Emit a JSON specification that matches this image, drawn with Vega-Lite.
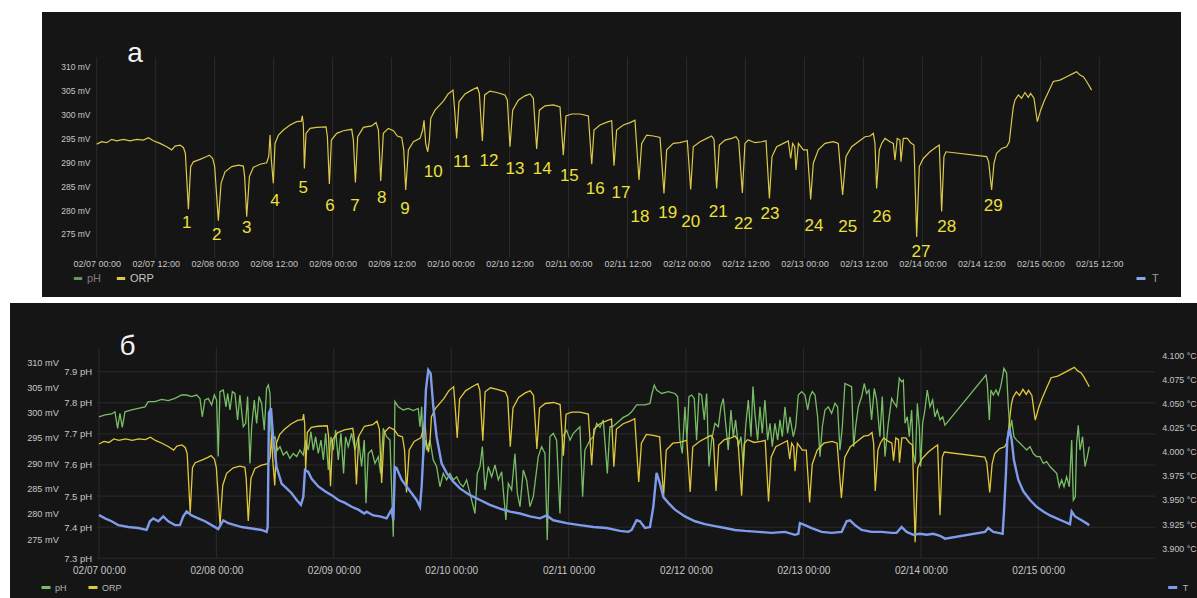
{
"$schema":"https://vega.github.io/schema/vega-lite/v6.json",
"background":"#ffffff",
"padding":{"left":10,"top":12,"right":0,"bottom":0},
"spacing":6,
"config":{
 "view":{"stroke":null},
 "font":"Liberation Sans",
 "axis":{"domain":false,"ticks":false,"tickSize":0,"grid":false,"labelColor":"#c6c6c6","labelFont":"Liberation Sans","labelPadding":0,"labelFlush":false,"labelOverlap":false,"labelBound":false},
 "legend":{"labelFont":"Liberation Sans","padding":0,"symbolType":"stroke","symbolStrokeWidth":3,"symbolSize":81,"direction":"horizontal","orient":"none"}
},
"resolve":{"scale":{"color":"independent","stroke":"independent"},"legend":{"color":"independent","stroke":"independent"}},
"datasets":{
"ticksA":[{"t":"2023-02-07T00:00"},{"t":"2023-02-07T12:00"},{"t":"2023-02-08T00:00"},{"t":"2023-02-08T12:00"},{"t":"2023-02-09T00:00"},{"t":"2023-02-09T12:00"},{"t":"2023-02-10T00:00"},{"t":"2023-02-10T12:00"},{"t":"2023-02-11T00:00"},{"t":"2023-02-11T12:00"},{"t":"2023-02-12T00:00"},{"t":"2023-02-12T12:00"},{"t":"2023-02-13T00:00"},{"t":"2023-02-13T12:00"},{"t":"2023-02-14T00:00"},{"t":"2023-02-14T12:00"},{"t":"2023-02-15T00:00"},{"t":"2023-02-15T12:00"}],
"ticksB":[{"t":"2023-02-07T00:00"},{"t":"2023-02-08T00:00"},{"t":"2023-02-09T00:00"},{"t":"2023-02-10T00:00"},{"t":"2023-02-11T00:00"},{"t":"2023-02-12T00:00"},{"t":"2023-02-13T00:00"},{"t":"2023-02-14T00:00"},{"t":"2023-02-15T00:00"}],
"phTicks":[{"p":7.3},{"p":7.4},{"p":7.5},{"p":7.6},{"p":7.7},{"p":7.8},{"p":7.9}],
"labelsA":[
{"t":"2023-02-07T18:19","v":277.24,"n":"1"},{"t":"2023-02-08T00:25","v":274.79,"n":"2"},{"t":"2023-02-08T06:31","v":276.19,"n":"3"},{"t":"2023-02-08T12:17","v":281.97,"n":"4"},{"t":"2023-02-08T18:02","v":284.56,"n":"5"},{"t":"2023-02-08T23:28","v":280.86,"n":"6"},{"t":"2023-02-09T04:33","v":280.86,"n":"7"},{"t":"2023-02-09T09:59","v":282.47,"n":"8"},{"t":"2023-02-09T14:44","v":280.23,"n":"9"},{"t":"2023-02-09T20:29","v":288.03,"n":"10"},
{"t":"2023-02-10T02:16","v":290.13,"n":"11"},{"t":"2023-02-10T07:49","v":290.27,"n":"12"},{"t":"2023-02-10T13:07","v":288.6,"n":"13"},{"t":"2023-02-10T18:40","v":288.54,"n":"14"},{"t":"2023-02-11T00:10","v":287.2,"n":"15"},{"t":"2023-02-11T05:26","v":284.41,"n":"16"},{"t":"2023-02-11T10:40","v":283.64,"n":"17"},{"t":"2023-02-11T14:32","v":278.62,"n":"18"},{"t":"2023-02-11T20:10","v":279.46,"n":"19"},{"t":"2023-02-12T00:51","v":277.45,"n":"20"},
{"t":"2023-02-12T06:28","v":279.67,"n":"21"},{"t":"2023-02-12T11:34","v":277.03,"n":"22"},{"t":"2023-02-12T16:59","v":279.18,"n":"23"},{"t":"2023-02-13T01:56","v":276.67,"n":"24"},{"t":"2023-02-13T08:48","v":276.4,"n":"25"},{"t":"2023-02-13T15:43","v":278.49,"n":"26"},{"t":"2023-02-13T23:43","v":271.3,"n":"27"},{"t":"2023-02-14T04:56","v":276.4,"n":"28"},{"t":"2023-02-14T14:25","v":280.86,"n":"29"}],
"orp":[
{"t":"2023-02-07T00:00","v":293.8},{"t":"2023-02-07T01:01","v":294.3},{"t":"2023-02-07T02:02","v":294.1},{"t":"2023-02-07T03:03","v":294.8},{"t":"2023-02-07T04:04","v":294.5},{"t":"2023-02-07T05:26","v":294.8},{"t":"2023-02-07T06:47","v":294.5},{"t":"2023-02-07T08:08","v":294.8},{"t":"2023-02-07T09:29","v":294.65},{"t":"2023-02-07T10:31","v":295.15},{"t":"2023-02-07T11:32","v":294.5},{"t":"2023-02-07T12:53","v":293.95},{"t":"2023-02-07T14:14","v":293.25},{"t":"2023-02-07T15:16","v":292.6},{"t":"2023-02-07T15:56","v":293.4},{"t":"2023-02-07T16:57","v":293.6},{"t":"2023-02-07T17:38","v":293.1},{"t":"2023-02-07T18:02","v":291.9},{"t":"2023-02-07T18:39","v":280.2},{"t":"2023-02-07T19:07","v":289.1},{"t":"2023-02-07T19:40","v":290.1},{"t":"2023-02-07T21:01","v":290.6},{"t":"2023-02-07T22:23","v":291.2},{"t":"2023-02-07T22:55","v":291.5},{"t":"2023-02-07T23:36","v":290.8},
{"t":"2023-02-08T00:00","v":289.1},{"t":"2023-02-08T00:45","v":277.8},{"t":"2023-02-08T01:18","v":285.6},{"t":"2023-02-08T02:06","v":288.0},{"t":"2023-02-08T03:28","v":289.1},{"t":"2023-02-08T04:49","v":289.4},{"t":"2023-02-08T05:50","v":289.2},{"t":"2023-02-08T06:06","v":287.0},{"t":"2023-02-08T06:31","v":278.6},{"t":"2023-02-08T07:04","v":287.0},{"t":"2023-02-08T07:53","v":288.95},{"t":"2023-02-08T09:14","v":289.6},{"t":"2023-02-08T10:35","v":289.9},{"t":"2023-02-08T11:00","v":291.2},{"t":"2023-02-08T11:16","v":295.7},{"t":"2023-02-08T11:32","v":290.5},{"t":"2023-02-08T11:56","v":285.6},{"t":"2023-02-08T12:17","v":293.95},{"t":"2023-02-08T12:58","v":295.7},{"t":"2023-02-08T13:59","v":296.75},{"t":"2023-02-08T15:20","v":297.8},{"t":"2023-02-08T16:41","v":298.5},{"t":"2023-02-08T17:38","v":298.6},{"t":"2023-02-08T17:50","v":299.7},{"t":"2023-02-08T18:03","v":297.8},{"t":"2023-02-08T18:15","v":288.7},{"t":"2023-02-08T18:35","v":296.05},{"t":"2023-02-08T19:24","v":297.1},{"t":"2023-02-08T20:46","v":297.3},{"t":"2023-02-08T22:40","v":297.4},{"t":"2023-02-08T22:56","v":295.35},{"t":"2023-02-08T23:20","v":285.45},{"t":"2023-02-08T23:45","v":294.65},
{"t":"2023-02-09T00:50","v":296.05},{"t":"2023-02-09T02:11","v":296.6},{"t":"2023-02-09T03:53","v":296.9},{"t":"2023-02-09T04:13","v":294.65},{"t":"2023-02-09T04:38","v":285.8},{"t":"2023-02-09T05:06","v":295.35},{"t":"2023-02-09T06:16","v":297.3},{"t":"2023-02-09T07:57","v":297.6},{"t":"2023-02-09T08:50","v":298.3},{"t":"2023-02-09T09:19","v":296.75},{"t":"2023-02-09T09:47","v":286.1},{"t":"2023-02-09T10:19","v":296.05},{"t":"2023-02-09T11:20","v":297.1},{"t":"2023-02-09T12:22","v":296.6},{"t":"2023-02-09T13:10","v":295.5},{"t":"2023-02-09T14:03","v":295.2},{"t":"2023-02-09T14:28","v":292.6},{"t":"2023-02-09T14:52","v":284.2},{"t":"2023-02-09T15:25","v":292.6},{"t":"2023-02-09T16:26","v":294.3},{"t":"2023-02-09T17:47","v":295.0},{"t":"2023-02-09T18:20","v":296.75},{"t":"2023-02-09T18:36","v":298.8},{"t":"2023-02-09T18:56","v":293.95},{"t":"2023-02-09T19:21","v":292.2},{"t":"2023-02-09T19:41","v":294.65},{"t":"2023-02-09T19:58","v":299.2},{"t":"2023-02-09T20:50","v":300.9},{"t":"2023-02-09T22:32","v":302.8},{"t":"2023-02-09T23:30","v":304.3},
{"t":"2023-02-10T00:30","v":305.1},{"t":"2023-02-10T00:50","v":300.9},{"t":"2023-02-10T01:14","v":295.0},{"t":"2023-02-10T01:43","v":302.7},{"t":"2023-02-10T02:56","v":304.3},{"t":"2023-02-10T04:17","v":305.1},{"t":"2023-02-10T05:27","v":305.7},{"t":"2023-02-10T05:51","v":304.4},{"t":"2023-02-10T06:28","v":294.45},{"t":"2023-02-10T06:56","v":304.1},{"t":"2023-02-10T08:01","v":304.9},{"t":"2023-02-10T09:23","v":304.6},{"t":"2023-02-10T11:04","v":304.1},{"t":"2023-02-10T11:33","v":303.0},{"t":"2023-02-10T12:05","v":293.25},{"t":"2023-02-10T12:38","v":300.9},{"t":"2023-02-10T13:47","v":303.0},{"t":"2023-02-10T15:08","v":303.9},{"t":"2023-02-10T16:10","v":304.3},{"t":"2023-02-10T16:50","v":303.4},{"t":"2023-02-10T17:31","v":292.8},{"t":"2023-02-10T18:04","v":300.9},{"t":"2023-02-10T19:13","v":301.8},{"t":"2023-02-10T20:55","v":302.0},{"t":"2023-02-10T22:16","v":301.6},{"t":"2023-02-10T22:56","v":291.5},{"t":"2023-02-10T23:29","v":299.7},
{"t":"2023-02-11T00:38","v":300.1},{"t":"2023-02-11T02:20","v":300.1},{"t":"2023-02-11T04:02","v":299.7},{"t":"2023-02-11T04:43","v":289.6},{"t":"2023-02-11T05:11","v":296.75},{"t":"2023-02-11T06:24","v":297.8},{"t":"2023-02-11T08:06","v":298.5},{"t":"2023-02-11T08:47","v":298.7},{"t":"2023-02-11T09:15","v":289.3},{"t":"2023-02-11T09:47","v":296.75},{"t":"2023-02-11T11:09","v":297.8},{"t":"2023-02-11T12:31","v":298.3},{"t":"2023-02-11T13:31","v":298.8},{"t":"2023-02-11T14:20","v":286.3},{"t":"2023-02-11T14:53","v":293.95},{"t":"2023-02-11T15:54","v":295.7},{"t":"2023-02-11T17:16","v":295.5},{"t":"2023-02-11T18:37","v":295.2},{"t":"2023-02-11T19:25","v":283.5},{"t":"2023-02-11T19:58","v":292.6},{"t":"2023-02-11T21:19","v":293.95},{"t":"2023-02-11T22:41","v":294.1},
{"t":"2023-02-12T00:10","v":294.5},{"t":"2023-02-12T00:51","v":284.3},{"t":"2023-02-12T01:23","v":293.25},{"t":"2023-02-12T02:45","v":294.3},{"t":"2023-02-12T04:07","v":295.0},{"t":"2023-02-12T05:07","v":295.5},{"t":"2023-02-12T05:36","v":294.8},{"t":"2023-02-12T06:08","v":284.5},{"t":"2023-02-12T06:41","v":293.6},{"t":"2023-02-12T07:50","v":294.65},{"t":"2023-02-12T09:11","v":295.0},{"t":"2023-02-12T10:04","v":295.35},{"t":"2023-02-12T10:37","v":294.5},{"t":"2023-02-12T11:22","v":283.6},{"t":"2023-02-12T11:54","v":293.95},{"t":"2023-02-12T12:35","v":294.65},{"t":"2023-02-12T13:56","v":294.1},{"t":"2023-02-12T15:18","v":294.3},{"t":"2023-02-12T16:11","v":294.5},{"t":"2023-02-12T16:52","v":282.45},{"t":"2023-02-12T17:24","v":291.2},{"t":"2023-02-12T18:21","v":293.25},{"t":"2023-02-12T19:42","v":293.95},{"t":"2023-02-12T20:43","v":294.45},{"t":"2023-02-12T21:12","v":290.8},{"t":"2023-02-12T21:36","v":293.95},{"t":"2023-02-12T22:01","v":293.25},{"t":"2023-02-12T22:17","v":288.4},{"t":"2023-02-12T22:46","v":293.95},{"t":"2023-02-12T23:46","v":292.6},
{"t":"2023-02-13T00:35","v":292.6},{"t":"2023-02-13T01:16","v":282.25},{"t":"2023-02-13T01:48","v":289.8},{"t":"2023-02-13T02:49","v":292.6},{"t":"2023-02-13T04:11","v":293.95},{"t":"2023-02-13T05:53","v":294.3},{"t":"2023-02-13T06:53","v":293.95},{"t":"2023-02-13T07:46","v":283.15},{"t":"2023-02-13T08:27","v":291.2},{"t":"2023-02-13T09:36","v":293.25},{"t":"2023-02-13T10:58","v":294.3},{"t":"2023-02-13T12:19","v":295.35},{"t":"2023-02-13T13:20","v":295.5},{"t":"2023-02-13T14:01","v":296.05},{"t":"2023-02-13T14:21","v":293.95},{"t":"2023-02-13T14:41","v":284.5},{"t":"2023-02-13T15:14","v":292.6},{"t":"2023-02-13T15:43","v":293.95},{"t":"2023-02-13T16:23","v":295.0},{"t":"2023-02-13T17:24","v":294.3},{"t":"2023-02-13T18:05","v":293.95},{"t":"2023-02-13T18:25","v":290.5},{"t":"2023-02-13T18:53","v":295.0},{"t":"2023-02-13T19:26","v":294.65},{"t":"2023-02-13T19:38","v":290.1},{"t":"2023-02-13T20:07","v":295.0},{"t":"2023-02-13T20:56","v":295.0},{"t":"2023-02-13T21:36","v":294.1},{"t":"2023-02-13T22:17","v":293.6},{"t":"2023-02-13T22:50","v":274.4},{"t":"2023-02-13T23:22","v":289.1},
{"t":"2023-02-14T00:11","v":290.8},{"t":"2023-02-14T01:32","v":292.2},{"t":"2023-02-14T02:54","v":293.25},{"t":"2023-02-14T03:26","v":293.6},{"t":"2023-02-14T03:55","v":279.7},{"t":"2023-02-14T04:23","v":291.2},{"t":"2023-02-14T04:48","v":292.2},{"t":"2023-02-14T13:04","v":291.2},{"t":"2023-02-14T13:29","v":290.1},{"t":"2023-02-14T14:05","v":284.2},{"t":"2023-02-14T14:34","v":289.8},{"t":"2023-02-14T15:06","v":291.9},{"t":"2023-02-14T16:07","v":292.9},{"t":"2023-02-14T17:08","v":293.25},{"t":"2023-02-14T17:41","v":294.3},{"t":"2023-02-14T18:10","v":298.8},{"t":"2023-02-14T18:30","v":301.6},{"t":"2023-02-14T18:50","v":303.0},{"t":"2023-02-14T19:31","v":304.1},{"t":"2023-02-14T20:11","v":303.4},{"t":"2023-02-14T20:52","v":304.6},{"t":"2023-02-14T21:33","v":303.6},{"t":"2023-02-14T22:01","v":304.4},{"t":"2023-02-14T22:42","v":303.4},{"t":"2023-02-14T23:23","v":298.5},
{"t":"2023-02-15T00:04","v":300.9},{"t":"2023-02-15T00:44","v":302.7},{"t":"2023-02-15T01:49","v":305.1},{"t":"2023-02-15T02:38","v":306.9},{"t":"2023-02-15T03:59","v":307.2},{"t":"2023-02-15T05:21","v":307.9},{"t":"2023-02-15T06:42","v":308.6},{"t":"2023-02-15T07:23","v":308.95},{"t":"2023-02-15T08:04","v":308.25},{"t":"2023-02-15T08:44","v":307.9},{"t":"2023-02-15T09:25","v":306.9},{"t":"2023-02-15T10:26","v":305.1}],
"ph":[
{"t":"2023-02-07T00:00","p":7.755},{"t":"2023-02-07T01:14","p":7.761},{"t":"2023-02-07T02:35","p":7.764},{"t":"2023-02-07T03:16","p":7.771},{"t":"2023-02-07T03:49","p":7.718},{"t":"2023-02-07T04:17","p":7.766},{"t":"2023-02-07T04:46","p":7.721},{"t":"2023-02-07T05:19","p":7.771},{"t":"2023-02-07T06:41","p":7.777},{"t":"2023-02-07T08:02","p":7.782},{"t":"2023-02-07T09:24","p":7.787},{"t":"2023-02-07T10:05","p":7.804},{"t":"2023-02-07T11:27","p":7.804},{"t":"2023-02-07T12:49","p":7.811},{"t":"2023-02-07T14:10","p":7.807},{"t":"2023-02-07T15:32","p":7.814},{"t":"2023-02-07T16:54","p":7.825},{"t":"2023-02-07T17:55","p":7.825},{"t":"2023-02-07T18:56","p":7.82},{"t":"2023-02-07T19:58","p":7.825},{"t":"2023-02-07T20:39","p":7.814},{"t":"2023-02-07T21:07","p":7.755},{"t":"2023-02-07T21:40","p":7.809},{"t":"2023-02-07T22:21","p":7.814},{"t":"2023-02-07T23:02","p":7.793},{"t":"2023-02-07T23:35","p":7.825},
{"t":"2023-02-08T00:03","p":7.809},{"t":"2023-02-08T00:23","p":7.627},{"t":"2023-02-08T00:44","p":7.836},{"t":"2023-02-08T01:25","p":7.841},{"t":"2023-02-08T01:58","p":7.787},{"t":"2023-02-08T02:18","p":7.83},{"t":"2023-02-08T02:47","p":7.777},{"t":"2023-02-08T03:16","p":7.836},{"t":"2023-02-08T03:48","p":7.83},{"t":"2023-02-08T04:20","p":7.745},{"t":"2023-02-08T04:49","p":7.825},{"t":"2023-02-08T05:30","p":7.723},{"t":"2023-02-08T05:59","p":7.734},{"t":"2023-02-08T06:23","p":7.82},{"t":"2023-02-08T06:52","p":7.605},{"t":"2023-02-08T07:13","p":7.723},{"t":"2023-02-08T07:45","p":7.809},{"t":"2023-02-08T08:14","p":7.734},{"t":"2023-02-08T08:43","p":7.82},{"t":"2023-02-08T09:15","p":7.798},{"t":"2023-02-08T09:48","p":7.712},{"t":"2023-02-08T10:16","p":7.846},{"t":"2023-02-08T10:37","p":7.857},{"t":"2023-02-08T10:58","p":7.83},{"t":"2023-02-08T11:10","p":7.712},{"t":"2023-02-08T11:26","p":7.68},{"t":"2023-02-08T11:59","p":7.691},{"t":"2023-02-08T12:31","p":7.648},{"t":"2023-02-08T13:00","p":7.659},{"t":"2023-02-08T13:41","p":7.632},{"t":"2023-02-08T14:22","p":7.643},{"t":"2023-02-08T15:02","p":7.621},{"t":"2023-02-08T15:43","p":7.637},{"t":"2023-02-08T16:25","p":7.627},{"t":"2023-02-08T17:05","p":7.648},{"t":"2023-02-08T17:46","p":7.632},{"t":"2023-02-08T18:15","p":7.68},{"t":"2023-02-08T18:47","p":7.648},{"t":"2023-02-08T19:20","p":7.707},{"t":"2023-02-08T19:49","p":7.648},{"t":"2023-02-08T20:17","p":7.691},{"t":"2023-02-08T20:50","p":7.637},{"t":"2023-02-08T21:23","p":7.68},{"t":"2023-02-08T21:52","p":7.616},{"t":"2023-02-08T22:20","p":7.702},{"t":"2023-02-08T22:53","p":7.584},{"t":"2023-02-08T23:25","p":7.691},{"t":"2023-02-08T23:54","p":7.648},
{"t":"2023-02-09T00:23","p":7.712},{"t":"2023-02-09T00:55","p":7.616},{"t":"2023-02-09T01:28","p":7.702},{"t":"2023-02-09T02:00","p":7.573},{"t":"2023-02-09T02:25","p":7.691},{"t":"2023-02-09T02:58","p":7.659},{"t":"2023-02-09T03:39","p":7.702},{"t":"2023-02-09T04:20","p":7.648},{"t":"2023-02-09T05:01","p":7.691},{"t":"2023-02-09T05:41","p":7.595},{"t":"2023-02-09T06:14","p":7.68},{"t":"2023-02-09T06:35","p":7.477},{"t":"2023-02-09T07:03","p":7.637},{"t":"2023-02-09T07:44","p":7.648},{"t":"2023-02-09T08:25","p":7.605},{"t":"2023-02-09T09:06","p":7.627},{"t":"2023-02-09T09:34","p":7.573},{"t":"2023-02-09T10:07","p":7.718},{"t":"2023-02-09T10:48","p":7.691},{"t":"2023-02-09T11:29","p":7.68},{"t":"2023-02-09T12:10","p":7.369},{"t":"2023-02-09T12:30","p":7.804},{"t":"2023-02-09T13:11","p":7.787},{"t":"2023-02-09T14:13","p":7.777},{"t":"2023-02-09T15:14","p":7.782},{"t":"2023-02-09T16:15","p":7.775},{"t":"2023-02-09T17:16","p":7.782},{"t":"2023-02-09T17:37","p":7.723},{"t":"2023-02-09T17:58","p":7.787},{"t":"2023-02-09T18:18","p":7.627},{"t":"2023-02-09T18:42","p":7.68},{"t":"2023-02-09T18:59","p":7.648},{"t":"2023-02-09T19:40","p":7.68},{"t":"2023-02-09T20:20","p":7.616},{"t":"2023-02-09T21:01","p":7.595},{"t":"2023-02-09T21:42","p":7.53},{"t":"2023-02-09T22:23","p":7.573},{"t":"2023-02-09T23:04","p":7.552},{"t":"2023-02-09T23:45","p":7.573},
{"t":"2023-02-10T00:26","p":7.552},{"t":"2023-02-10T01:07","p":7.562},{"t":"2023-02-10T01:47","p":7.541},{"t":"2023-02-10T02:28","p":7.53},{"t":"2023-02-10T03:09","p":7.552},{"t":"2023-02-10T03:50","p":7.509},{"t":"2023-02-10T04:52","p":7.444},{"t":"2023-02-10T05:20","p":7.573},{"t":"2023-02-10T05:53","p":7.595},{"t":"2023-02-10T06:22","p":7.659},{"t":"2023-02-10T06:54","p":7.52},{"t":"2023-02-10T07:35","p":7.595},{"t":"2023-02-10T08:16","p":7.562},{"t":"2023-02-10T08:57","p":7.6},{"t":"2023-02-10T09:38","p":7.552},{"t":"2023-02-10T10:19","p":7.578},{"t":"2023-02-10T11:11","p":7.423},{"t":"2023-02-10T11:40","p":7.541},{"t":"2023-02-10T12:21","p":7.52},{"t":"2023-02-10T13:02","p":7.637},{"t":"2023-02-10T13:31","p":7.509},{"t":"2023-02-10T14:04","p":7.466},{"t":"2023-02-10T14:44","p":7.584},{"t":"2023-02-10T15:25","p":7.552},{"t":"2023-02-10T16:06","p":7.466},{"t":"2023-02-10T16:47","p":7.498},{"t":"2023-02-10T17:48","p":7.627},{"t":"2023-02-10T18:29","p":7.659},{"t":"2023-02-10T19:10","p":7.637},{"t":"2023-02-10T19:38","p":7.359},{"t":"2023-02-10T20:11","p":7.691},{"t":"2023-02-10T20:52","p":7.702},{"t":"2023-02-10T21:33","p":7.68},{"t":"2023-02-10T22:14","p":7.444},{"t":"2023-02-10T22:47","p":7.691},{"t":"2023-02-10T23:36","p":7.712},
{"t":"2023-02-11T00:17","p":7.68},{"t":"2023-02-11T00:58","p":7.702},{"t":"2023-02-11T02:19","p":7.723},{"t":"2023-02-11T02:52","p":7.498},{"t":"2023-02-11T03:20","p":7.648},{"t":"2023-02-11T04:22","p":7.68},{"t":"2023-02-11T05:03","p":7.691},{"t":"2023-02-11T05:44","p":7.734},{"t":"2023-02-11T06:25","p":7.721},{"t":"2023-02-11T07:05","p":7.745},{"t":"2023-02-11T07:55","p":7.573},{"t":"2023-02-11T08:27","p":7.723},{"t":"2023-02-11T09:08","p":7.725},{"t":"2023-02-11T10:10","p":7.739},{"t":"2023-02-11T11:11","p":7.753},{"t":"2023-02-11T12:12","p":7.761},{"t":"2023-02-11T12:53","p":7.771},{"t":"2023-02-11T13:54","p":7.793},{"t":"2023-02-11T15:37","p":7.793},{"t":"2023-02-11T16:38","p":7.798},{"t":"2023-02-11T16:58","p":7.825},{"t":"2023-02-11T17:31","p":7.857},{"t":"2023-02-11T17:59","p":7.841},{"t":"2023-02-11T19:01","p":7.83},{"t":"2023-02-11T20:23","p":7.836},{"t":"2023-02-11T21:44","p":7.83},{"t":"2023-02-11T22:17","p":7.82},{"t":"2023-02-11T22:46","p":7.68},{"t":"2023-02-11T23:14","p":7.637},{"t":"2023-02-11T23:47","p":7.787},
{"t":"2023-02-12T00:11","p":7.68},{"t":"2023-02-12T00:36","p":7.82},{"t":"2023-02-12T01:09","p":7.825},{"t":"2023-02-12T01:41","p":7.814},{"t":"2023-02-12T02:10","p":7.68},{"t":"2023-02-12T02:39","p":7.83},{"t":"2023-02-12T03:11","p":7.825},{"t":"2023-02-12T03:44","p":7.745},{"t":"2023-02-12T04:13","p":7.83},{"t":"2023-02-12T04:41","p":7.595},{"t":"2023-02-12T05:14","p":7.68},{"t":"2023-02-12T05:55","p":7.734},{"t":"2023-02-12T06:36","p":7.723},{"t":"2023-02-12T07:08","p":7.787},{"t":"2023-02-12T07:37","p":7.814},{"t":"2023-02-12T08:06","p":7.734},{"t":"2023-02-12T08:38","p":7.648},{"t":"2023-02-12T09:11","p":7.777},{"t":"2023-02-12T09:40","p":7.691},{"t":"2023-02-12T10:08","p":7.745},{"t":"2023-02-12T10:41","p":7.659},{"t":"2023-02-12T11:14","p":7.691},{"t":"2023-02-12T11:43","p":7.595},{"t":"2023-02-12T12:11","p":7.723},{"t":"2023-02-12T12:44","p":7.809},{"t":"2023-02-12T13:17","p":7.691},{"t":"2023-02-12T13:41","p":7.852},{"t":"2023-02-12T14:05","p":7.766},{"t":"2023-02-12T14:38","p":7.68},{"t":"2023-02-12T15:07","p":7.787},{"t":"2023-02-12T15:35","p":7.702},{"t":"2023-02-12T16:08","p":7.809},{"t":"2023-02-12T16:41","p":7.68},{"t":"2023-02-12T17:10","p":7.734},{"t":"2023-02-12T17:38","p":7.659},{"t":"2023-02-12T18:11","p":7.734},{"t":"2023-02-12T18:44","p":7.68},{"t":"2023-02-12T19:12","p":7.745},{"t":"2023-02-12T19:41","p":7.691},{"t":"2023-02-12T20:14","p":7.787},{"t":"2023-02-12T20:46","p":7.702},{"t":"2023-02-12T21:15","p":7.755},{"t":"2023-02-12T21:56","p":7.691},{"t":"2023-02-12T22:25","p":7.723},{"t":"2023-02-12T22:57","p":7.825},{"t":"2023-02-12T23:38","p":7.836},
{"t":"2023-02-13T00:19","p":7.825},{"t":"2023-02-13T00:52","p":7.777},{"t":"2023-02-13T01:20","p":7.82},{"t":"2023-02-13T01:49","p":7.836},{"t":"2023-02-13T02:22","p":7.825},{"t":"2023-02-13T02:54","p":7.755},{"t":"2023-02-13T03:23","p":7.627},{"t":"2023-02-13T03:52","p":7.723},{"t":"2023-02-13T04:24","p":7.777},{"t":"2023-02-13T05:05","p":7.787},{"t":"2023-02-13T05:46","p":7.766},{"t":"2023-02-13T06:27","p":7.798},{"t":"2023-02-13T06:59","p":7.787},{"t":"2023-02-13T07:28","p":7.648},{"t":"2023-02-13T07:57","p":7.723},{"t":"2023-02-13T08:29","p":7.862},{"t":"2023-02-13T09:10","p":7.857},{"t":"2023-02-13T09:51","p":7.852},{"t":"2023-02-13T10:16","p":7.659},{"t":"2023-02-13T10:40","p":7.723},{"t":"2023-02-13T11:13","p":7.787},{"t":"2023-02-13T11:54","p":7.82},{"t":"2023-02-13T12:26","p":7.862},{"t":"2023-02-13T12:55","p":7.83},{"t":"2023-02-13T13:24","p":7.841},{"t":"2023-02-13T13:56","p":7.745},{"t":"2023-02-13T14:29","p":7.846},{"t":"2023-02-13T14:58","p":7.809},{"t":"2023-02-13T15:38","p":7.691},{"t":"2023-02-13T16:07","p":7.82},{"t":"2023-02-13T16:40","p":7.627},{"t":"2023-02-13T17:21","p":7.734},{"t":"2023-02-13T18:02","p":7.814},{"t":"2023-02-13T18:22","p":7.804},{"t":"2023-02-13T19:03","p":7.787},{"t":"2023-02-13T19:36","p":7.879},{"t":"2023-02-13T20:04","p":7.868},{"t":"2023-02-13T20:25","p":7.873},{"t":"2023-02-13T20:46","p":7.734},{"t":"2023-02-13T21:14","p":7.755},{"t":"2023-02-13T21:38","p":7.691},{"t":"2023-02-13T22:07","p":7.777},{"t":"2023-02-13T22:28","p":7.637},{"t":"2023-02-13T22:52","p":7.605},{"t":"2023-02-13T23:17","p":7.798},{"t":"2023-02-13T23:41","p":7.723},{"t":"2023-02-13T23:58","p":7.595},
{"t":"2023-02-14T00:22","p":7.734},{"t":"2023-02-14T00:50","p":7.777},{"t":"2023-02-14T01:19","p":7.841},{"t":"2023-02-14T01:52","p":7.787},{"t":"2023-02-14T02:25","p":7.809},{"t":"2023-02-14T02:53","p":7.755},{"t":"2023-02-14T03:22","p":7.777},{"t":"2023-02-14T03:55","p":7.745},{"t":"2023-02-14T04:28","p":7.755},{"t":"2023-02-14T04:56","p":7.728},{"t":"2023-02-14T13:19","p":7.889},{"t":"2023-02-14T13:35","p":7.862},{"t":"2023-02-14T14:00","p":7.745},{"t":"2023-02-14T14:20","p":7.841},{"t":"2023-02-14T14:49","p":7.825},{"t":"2023-02-14T15:22","p":7.841},{"t":"2023-02-14T15:50","p":7.825},{"t":"2023-02-14T16:19","p":7.852},{"t":"2023-02-14T16:43","p":7.884},{"t":"2023-02-14T16:59","p":7.911},{"t":"2023-02-14T17:32","p":7.895},{"t":"2023-02-14T17:53","p":7.787},{"t":"2023-02-14T18:13","p":7.712},{"t":"2023-02-14T18:34","p":7.745},{"t":"2023-02-14T19:02","p":7.691},{"t":"2023-02-14T19:35","p":7.68},{"t":"2023-02-14T20:16","p":7.67},{"t":"2023-02-14T20:57","p":7.659},{"t":"2023-02-14T21:38","p":7.648},{"t":"2023-02-14T22:19","p":7.659},{"t":"2023-02-14T22:59","p":7.637},{"t":"2023-02-14T23:40","p":7.627},
{"t":"2023-02-15T00:21","p":7.627},{"t":"2023-02-15T01:02","p":7.605},{"t":"2023-02-15T01:43","p":7.611},{"t":"2023-02-15T02:24","p":7.595},{"t":"2023-02-15T03:05","p":7.584},{"t":"2023-02-15T03:46","p":7.573},{"t":"2023-02-15T04:18","p":7.53},{"t":"2023-02-15T04:47","p":7.552},{"t":"2023-02-15T05:16","p":7.53},{"t":"2023-02-15T05:48","p":7.562},{"t":"2023-02-15T06:21","p":7.53},{"t":"2023-02-15T06:50","p":7.68},{"t":"2023-02-15T07:10","p":7.487},{"t":"2023-02-15T07:35","p":7.498},{"t":"2023-02-15T07:51","p":7.67},{"t":"2023-02-15T08:11","p":7.728},{"t":"2023-02-15T08:32","p":7.648},{"t":"2023-02-15T09:04","p":7.691},{"t":"2023-02-15T09:33","p":7.595},{"t":"2023-02-15T10:02","p":7.627},{"t":"2023-02-15T10:26","p":7.659}],
"temp":[
{"t":"2023-02-07T00:00","T":3.9345},{"t":"2023-02-07T01:14","T":3.931},{"t":"2023-02-07T02:35","T":3.928},{"t":"2023-02-07T03:57","T":3.924},{"t":"2023-02-07T06:00","T":3.922},{"t":"2023-02-07T08:02","T":3.921},{"t":"2023-02-07T09:44","T":3.919},{"t":"2023-02-07T10:25","T":3.928},{"t":"2023-02-07T11:06","T":3.931},{"t":"2023-02-07T12:08","T":3.928},{"t":"2023-02-07T13:09","T":3.933},{"t":"2023-02-07T14:10","T":3.928},{"t":"2023-02-07T15:32","T":3.924},{"t":"2023-02-07T16:34","T":3.924},{"t":"2023-02-07T17:14","T":3.933},{"t":"2023-02-07T17:55","T":3.938},{"t":"2023-02-07T18:56","T":3.934},{"t":"2023-02-07T20:18","T":3.931},{"t":"2023-02-07T21:40","T":3.928},{"t":"2023-02-07T23:02","T":3.924},
{"t":"2023-02-08T00:23","T":3.92},{"t":"2023-02-08T01:25","T":3.929},{"t":"2023-02-08T02:26","T":3.926},{"t":"2023-02-08T03:48","T":3.924},{"t":"2023-02-08T05:10","T":3.922},{"t":"2023-02-08T06:32","T":3.921},{"t":"2023-02-08T07:53","T":3.92},{"t":"2023-02-08T09:15","T":3.919},{"t":"2023-02-08T10:16","T":3.917},{"t":"2023-02-08T10:29","T":3.922},{"t":"2023-02-08T10:45","T":4.04},{"t":"2023-02-08T11:10","T":4.045},{"t":"2023-02-08T11:38","T":4.012},{"t":"2023-02-08T12:19","T":3.984},{"t":"2023-02-08T13:20","T":3.967},{"t":"2023-02-08T14:22","T":3.962},{"t":"2023-02-08T15:23","T":3.957},{"t":"2023-02-08T16:25","T":3.95},{"t":"2023-02-08T17:17","T":3.945},{"t":"2023-02-08T17:46","T":3.953},{"t":"2023-02-08T18:07","T":3.981},{"t":"2023-02-08T18:47","T":3.979},{"t":"2023-02-08T19:28","T":3.972},{"t":"2023-02-08T20:50","T":3.964},{"t":"2023-02-08T22:12","T":3.959},{"t":"2023-02-08T23:34","T":3.955},
{"t":"2023-02-09T00:55","T":3.95},{"t":"2023-02-09T02:17","T":3.947},{"t":"2023-02-09T03:39","T":3.943},{"t":"2023-02-09T05:01","T":3.94},{"t":"2023-02-09T06:14","T":3.936},{"t":"2023-02-09T06:43","T":3.938},{"t":"2023-02-09T08:05","T":3.934},{"t":"2023-02-09T09:26","T":3.933},{"t":"2023-02-09T10:48","T":3.931},{"t":"2023-02-09T11:21","T":3.936},{"t":"2023-02-09T11:49","T":3.94},{"t":"2023-02-09T12:10","T":3.929},{"t":"2023-02-09T12:30","T":3.984},{"t":"2023-02-09T12:51","T":3.983},{"t":"2023-02-09T13:52","T":3.971},{"t":"2023-02-09T14:53","T":3.964},{"t":"2023-02-09T15:55","T":3.957},{"t":"2023-02-09T16:56","T":3.95},{"t":"2023-02-09T17:37","T":3.943},{"t":"2023-02-09T17:58","T":3.964},{"t":"2023-02-09T18:26","T":4.012},{"t":"2023-02-09T18:50","T":4.064},{"t":"2023-02-09T19:19","T":4.0845},{"t":"2023-02-09T19:48","T":4.081},{"t":"2023-02-09T20:20","T":4.047},{"t":"2023-02-09T21:01","T":4.0155},{"t":"2023-02-09T22:02","T":3.988},{"t":"2023-02-09T23:04","T":3.978},
{"t":"2023-02-10T00:26","T":3.969},{"t":"2023-02-10T01:47","T":3.962},{"t":"2023-02-10T03:50","T":3.955},{"t":"2023-02-10T05:53","T":3.95},{"t":"2023-02-10T07:55","T":3.945},{"t":"2023-02-10T09:58","T":3.941},{"t":"2023-02-10T12:01","T":3.938},{"t":"2023-02-10T14:04","T":3.936},{"t":"2023-02-10T16:06","T":3.933},{"t":"2023-02-10T18:09","T":3.931},{"t":"2023-02-10T19:31","T":3.934},{"t":"2023-02-10T20:52","T":3.929},{"t":"2023-02-10T23:36","T":3.926},
{"t":"2023-02-11T02:19","T":3.924},{"t":"2023-02-11T05:03","T":3.922},{"t":"2023-02-11T07:46","T":3.921},{"t":"2023-02-11T10:30","T":3.918},{"t":"2023-02-11T12:12","T":3.917},{"t":"2023-02-11T12:53","T":3.919},{"t":"2023-02-11T13:54","T":3.929},{"t":"2023-02-11T14:35","T":3.928},{"t":"2023-02-11T15:37","T":3.921},{"t":"2023-02-11T16:38","T":3.922},{"t":"2023-02-11T17:19","T":3.943},{"t":"2023-02-11T17:59","T":3.978},{"t":"2023-02-11T18:40","T":3.967},{"t":"2023-02-11T19:22","T":3.953},{"t":"2023-02-11T20:23","T":3.947},{"t":"2023-02-11T21:44","T":3.94},{"t":"2023-02-11T23:47","T":3.933},
{"t":"2023-02-12T01:50","T":3.928},{"t":"2023-02-12T03:52","T":3.925},{"t":"2023-02-12T05:55","T":3.923},{"t":"2023-02-12T07:58","T":3.921},{"t":"2023-02-12T10:00","T":3.919},{"t":"2023-02-12T12:03","T":3.918},{"t":"2023-02-12T14:47","T":3.917},{"t":"2023-02-12T17:30","T":3.916},{"t":"2023-02-12T20:14","T":3.917},{"t":"2023-02-12T22:16","T":3.914},{"t":"2023-02-12T22:57","T":3.915},{"t":"2023-02-12T23:17","T":3.926},
{"t":"2023-02-13T00:19","T":3.924},{"t":"2023-02-13T01:41","T":3.921},{"t":"2023-02-13T03:43","T":3.917},{"t":"2023-02-13T05:46","T":3.916},{"t":"2023-02-13T07:49","T":3.917},{"t":"2023-02-13T08:50","T":3.928},{"t":"2023-02-13T09:31","T":3.929},{"t":"2023-02-13T10:32","T":3.924},{"t":"2023-02-13T11:54","T":3.919},{"t":"2023-02-13T13:56","T":3.917},{"t":"2023-02-13T15:59","T":3.917},{"t":"2023-02-13T18:02","T":3.916},{"t":"2023-02-13T19:03","T":3.916},{"t":"2023-02-13T20:04","T":3.922},{"t":"2023-02-13T21:06","T":3.917},{"t":"2023-02-13T22:28","T":3.914},{"t":"2023-02-13T23:49","T":3.915},
{"t":"2023-02-14T01:11","T":3.914},{"t":"2023-02-14T02:33","T":3.915},{"t":"2023-02-14T03:55","T":3.913},{"t":"2023-02-14T04:56","T":3.91},{"t":"2023-02-14T13:07","T":3.917},{"t":"2023-02-14T13:47","T":3.921},{"t":"2023-02-14T14:49","T":3.917},{"t":"2023-02-14T15:50","T":3.916},{"t":"2023-02-14T16:43","T":3.915},{"t":"2023-02-14T16:59","T":3.936},{"t":"2023-02-14T17:24","T":3.978},{"t":"2023-02-14T17:40","T":4.012},{"t":"2023-02-14T18:05","T":4.024},{"t":"2023-02-14T18:34","T":4.012},{"t":"2023-02-14T19:02","T":3.991},{"t":"2023-02-14T19:55","T":3.971},{"t":"2023-02-14T20:57","T":3.959},{"t":"2023-02-14T22:19","T":3.95},{"t":"2023-02-14T23:40","T":3.943},
{"t":"2023-02-15T01:02","T":3.938},{"t":"2023-02-15T02:24","T":3.934},{"t":"2023-02-15T03:46","T":3.931},{"t":"2023-02-15T05:07","T":3.928},{"t":"2023-02-15T06:29","T":3.925},{"t":"2023-02-15T06:50","T":3.938},{"t":"2023-02-15T07:31","T":3.933},{"t":"2023-02-15T08:52","T":3.929},{"t":"2023-02-15T10:26","T":3.924}]
},
"vconcat":[
 {"hconcat":[
   {"width":32,"height":285,"data":{"values":[]},"mark":"point"},
   {"width":1139,"height":285,
    "view":{"fill":"#151515","stroke":null},
    "layer":[
     {"data":{"name":"ticksA"},
      "mark":{"type":"rule","color":"#2b2b2b","strokeWidth":1},
      "encoding":{
       "x":{"field":"t","type":"temporal","title":null,
            "scale":{"domain":[{"year":2023,"month":2,"date":6,"hours":12,"minutes":52},{"year":2023,"month":2,"date":16,"hours":4,"minutes":37}]},
            "axis":{"orient":"bottom","offset":-38,"format":"%m/%d %H:%M","labelFontSize":9,"labelColor":"#c6c6c6",
             "values":[{"year":2023,"month":2,"date":7,"hours":0},{"year":2023,"month":2,"date":7,"hours":12},{"year":2023,"month":2,"date":8,"hours":0},{"year":2023,"month":2,"date":8,"hours":12},{"year":2023,"month":2,"date":9,"hours":0},{"year":2023,"month":2,"date":9,"hours":12},{"year":2023,"month":2,"date":10,"hours":0},{"year":2023,"month":2,"date":10,"hours":12},{"year":2023,"month":2,"date":11,"hours":0},{"year":2023,"month":2,"date":11,"hours":12},{"year":2023,"month":2,"date":12,"hours":0},{"year":2023,"month":2,"date":12,"hours":12},{"year":2023,"month":2,"date":13,"hours":0},{"year":2023,"month":2,"date":13,"hours":12},{"year":2023,"month":2,"date":14,"hours":0},{"year":2023,"month":2,"date":14,"hours":12},{"year":2023,"month":2,"date":15,"hours":0},{"year":2023,"month":2,"date":15,"hours":12}]}},
       "y":{"datum":312,"type":"quantitative","title":null,
            "scale":{"domain":[261.82,321.44],"nice":false,"zero":false},
            "axis":{"orient":"left","offset":-48,"values":[275,280,285,290,295,300,305,310],"labelExpr":"datum.value + ' mV'","labelFontSize":8.5}},
       "y2":{"datum":270}
      }},
     {"data":{"name":"orp"},
      "mark":{"type":"line","strokeWidth":1.2},
      "encoding":{
       "x":{"field":"t","type":"temporal","title":null},
       "y":{"field":"v","type":"quantitative","title":null},
       "color":{"datum":"ORP","scale":{"domain":["pH","ORP"],"range":["#5f9a52","#dcc84a"]},
                "legend":{"title":null,"orient":"none","direction":"horizontal","legendX":62,"legendY":260.5,"labelFontSize":11,"labelColor":{"expr":"datum.value === 'pH' ? '#7c7c7c' : '#c4c4c4'"},"columnPadding":8,"labelOffset":3,"symbolSize":70}}
      }},
     {"data":{"values":[]},
      "mark":{"type":"line","strokeWidth":2},
      "encoding":{
       "x":{"field":"t","type":"temporal","title":null},
       "y":{"field":"T","type":"quantitative","title":null},
       "stroke":{"datum":"T","scale":{"domain":["T"],"range":["#8aa6f0"]},
                 "legend":{"title":null,"orient":"none","legendX":1125,"legendY":260.5,"labelFontSize":11,"labelColor":"#9a9a9a","labelOffset":5}}
      }},
     {"data":{"name":"labelsA"},
      "mark":{"type":"text","fontSize":17,"color":"#ece03c","align":"center","baseline":"middle","font":"Liberation Sans"},
      "encoding":{
       "x":{"field":"t","type":"temporal","title":null},
       "y":{"field":"v","type":"quantitative","title":null},
       "text":{"field":"n"}
      }},
     {"data":{"values":[{}]},
      "mark":{"type":"text","fontSize":28,"color":"#f2f2f2","align":"center","baseline":"alphabetic","text":"а","font":"Liberation Sans"},
      "encoding":{
       "x":{"datum":{"year":2023,"month":2,"date":7,"hours":7,"minutes":47},"type":"temporal"},
       "y":{"datum":311.05,"type":"quantitative"}
      }}
    ]}
  ],"spacing":0,"bounds":"flush"},
 {"width":1187,"height":295,
  "view":{"fill":"#151515","stroke":null},
  "resolve":{"scale":{"y":"independent"}},
  "layer":[
   {"layer":[
     {"data":{"name":"ticksB"},
      "mark":{"type":"rule","color":"#2b2b2b","strokeWidth":1},
      "encoding":{
       "x":{"field":"t","type":"temporal","title":null,
            "scale":{"domain":[{"year":2023,"month":2,"date":6,"hours":5,"minutes":49},{"year":2023,"month":2,"date":16,"hours":8,"minutes":27}]},
            "axis":{"orient":"bottom","offset":-32.3,"format":"%m/%d %H:%M","labelFontSize":10,"labelColor":"#c6c6c6",
             "values":[{"year":2023,"month":2,"date":7,"hours":0},{"year":2023,"month":2,"date":8,"hours":0},{"year":2023,"month":2,"date":9,"hours":0},{"year":2023,"month":2,"date":10,"hours":0},{"year":2023,"month":2,"date":11,"hours":0},{"year":2023,"month":2,"date":12,"hours":0},{"year":2023,"month":2,"date":13,"hours":0},{"year":2023,"month":2,"date":14,"hours":0},{"year":2023,"month":2,"date":15,"hours":0}]}},
       "y":{"datum":7.976,"type":"quantitative","title":null,"scale":{"domain":[7.1723,8.1209],"nice":false,"zero":false},
            "axis":{"orient":"left","offset":-81.7,"values":[7.3,7.4,7.5,7.6,7.7,7.8,7.9],"labelExpr":"format(datum.value, '.1f') + ' pH'","labelFontSize":9.5}},
       "y2":{"datum":7.298}
      }},
     {"data":{"name":"phTicks"},
      "mark":{"type":"rule","color":"#2b2b2b","strokeWidth":1},
      "encoding":{
       "x":{"datum":{"year":2023,"month":2,"date":6,"hours":23,"minutes":35},"type":"temporal"},
       "x2":{"datum":{"year":2023,"month":2,"date":15,"hours":23,"minutes":52}},
       "y":{"field":"p","type":"quantitative","title":null}
      }},
     {"data":{"name":"ph"},
      "mark":{"type":"line","strokeWidth":1.3},
      "encoding":{
       "x":{"field":"t","type":"temporal","title":null},
       "y":{"field":"p","type":"quantitative","title":null},
       "color":{"datum":"pH","scale":{"domain":["pH","ORP"],"range":["#78bd66","#e0c83c"]},
                "legend":{"title":null,"orient":"none","direction":"horizontal","legendX":30,"legendY":278.5,"labelFontSize":9,"labelColor":"#b4b4b4","columnPadding":15,"labelOffset":3}}
      }},
     {"data":{"values":[{}]},
      "mark":{"type":"text","fontSize":28,"color":"#f2f2f2","align":"center","baseline":"alphabetic","text":"б","font":"Liberation Sans"},
      "encoding":{
       "x":{"datum":{"year":2023,"month":2,"date":7,"hours":5,"minutes":50},"type":"temporal"},
       "y":{"datum":7.9537,"type":"quantitative","title":null}
      }}
   ]},
   {"data":{"name":"orp"},
    "mark":{"type":"line","strokeWidth":1.3},
    "encoding":{
     "x":{"field":"t","type":"temporal","title":null},
     "y":{"field":"v","type":"quantitative","title":null,
          "scale":{"domain":[263.36,321.66],"nice":false,"zero":false},
          "axis":{"orient":"left","offset":-48.3,"values":[275,280,285,290,295,300,305,310],"labelExpr":"datum.value + ' mV'","labelFontSize":9.2}},
     "color":{"datum":"ORP"}
    }},
   {"data":{"name":"temp"},
    "mark":{"type":"line","strokeWidth":2.4},
    "encoding":{
     "x":{"field":"t","type":"temporal","title":null},
     "y":{"field":"T","type":"quantitative","title":null,
          "scale":{"domain":[3.8486,4.1538],"nice":false,"zero":false},
          "axis":{"orient":"right","offset":-35.3,"values":[3.9,3.925,3.95,3.975,4.0,4.025,4.05,4.075,4.1],"labelExpr":"format(datum.value, '.3f') + ' °C'","labelFontSize":8.8,"labelAlign":"left","labelLimit":36}},
     "stroke":{"datum":"T","scale":{"domain":["T"],"range":["#7f9cec"]},
               "legend":{"title":null,"orient":"none","legendX":1156.7,"legendY":278.5,"labelFontSize":9,"labelColor":"#b4b4b4","labelOffset":4}}
    }}
  ]}
]
}
